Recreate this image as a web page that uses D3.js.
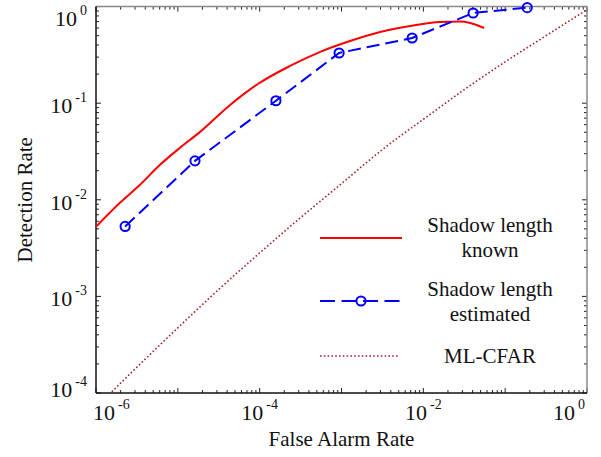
<!DOCTYPE html>
<html><head><meta charset="utf-8">
<script src="https://cdn.jsdelivr.net/npm/d3@7"></script>
<style>body{margin:0;background:#fff}svg{display:block}text{font-family:"Liberation Serif","Times New Roman",serif;fill:#111}</style>
</head><body>
<svg id="c" width="601" height="457"></svg>
<script>
// ---- data ----
const knownFA = [1e-6, 1.96e-6, 3.45e-6, 6.05e-6, 1.06e-5, 1.87e-5, 4.35e-5, 9.5e-5, 2.35e-4, 5.5e-4, 1.27e-3, 2.96e-3, 6.9e-3, 0.016, 0.0282, 0.0373, 0.0553];
const knownPD = [5.26e-3, 9.3e-3, 0.0143, 0.023, 0.0345, 0.0505, 0.096, 0.158, 0.243, 0.34, 0.44, 0.546, 0.63, 0.693, 0.70, 0.676, 0.60];
const estFA = [2.27e-6, 1.62e-5, 1.58e-4, 9.35e-4, 7.3e-3, 0.0406, 0.186];
const estPD = [5.3e-3, 0.0253, 0.106, 0.331, 0.473, 0.859, 0.975];
const cfarFA = [1.56e-6, 3.16e-6, 1e-5, 3.16e-5, 1e-4, 3.16e-4, 1e-3, 3.16e-3, 1e-2, 3.16e-2, 0.1, 0.316, 1];
const cfarPD = [1.03e-4, 1.85e-4, 4.73e-4, 1.18e-3, 2.82e-3, 6.53e-3, 0.0147, 0.0331, 0.0682, 0.138, 0.268, 0.50, 0.93];
const xTickVals = [1e-6, 1e-4, 1e-2, 1];
const xTickExp = ["-6", "-4", "-2", "0"];
const yTickVals = [1, 1e-1, 1e-2, 1e-3, 1e-4];
const yTickExp = ["0", "-1", "-2", "-3", "-4"];
const legendLabels = [["Shadow length", "known"], ["Shadow length", "estimated"], ["ML-CFAR"]];
const xTitle = "False Alarm Rate", yTitle = "Detection Rate";

// ---- layout ----
const L = 96, R = 587, T = 6.6, B = 393;
const svg = d3.select("#c");
const x = d3.scaleLog().domain([1e-6, 1]).range([L, R]);
const y = d3.scaleLog().domain([1e-4, 1]).range([B, T]);

svg.append("defs").append("clipPath").attr("id", "clip")
  .append("rect").attr("x", L).attr("y", T - 1).attr("width", R - L).attr("height", B - T + 1);

// minor + major ticks
const minorX = [], minorY = [];
for (let e = -6; e < 0; e++) for (let m = 2; m <= 9; m++) minorX.push(m * Math.pow(10, e));
for (let e = -4; e < 0; e++) for (let m = 2; m <= 9; m++) minorY.push(m * Math.pow(10, e));
const majX = d3.range(-6, 1).map(e => Math.pow(10, e));
const majY = d3.range(-4, 1).map(e => Math.pow(10, e));
const tg = svg.append("g").attr("stroke", "#222").attr("stroke-width", 1);
function tx(v, len) {
  tg.append("line").attr("x1", x(v)).attr("x2", x(v)).attr("y1", B).attr("y2", B - len);
  tg.append("line").attr("x1", x(v)).attr("x2", x(v)).attr("y1", T).attr("y2", T + len);
}
function ty(v, len) {
  tg.append("line").attr("y1", y(v)).attr("y2", y(v)).attr("x1", L).attr("x2", L + len);
  tg.append("line").attr("y1", y(v)).attr("y2", y(v)).attr("x1", R).attr("x2", R - len);
}
minorX.forEach(v => tx(v, 3)); majX.forEach(v => tx(v, 5));
minorY.forEach(v => ty(v, 3)); majY.forEach(v => ty(v, 5));

// frame
svg.append("line").attr("x1", L).attr("x2", R).attr("y1", T).attr("y2", T).attr("stroke", "#888").attr("stroke-width", 1.5);
svg.append("line").attr("x1", R).attr("x2", R).attr("y1", T).attr("y2", B).attr("stroke", "#888").attr("stroke-width", 1.5);
svg.append("line").attr("x1", L).attr("x2", L).attr("y1", T).attr("y2", B).attr("stroke", "#111").attr("stroke-width", 1.5);
svg.append("line").attr("x1", L).attr("x2", R).attr("y1", B).attr("y2", B).attr("stroke", "#111").attr("stroke-width", 1.5);

// tick labels
function powLabel(g, exp) {
  const t = g.append("text").attr("font-size", 22);
  t.append("tspan").text("10");
  t.append("tspan").attr("font-size", 14).attr("dy", -11).attr("dx", 3).text(exp);
  return t;
}
xTickVals.forEach((v, i) => {
  const t = powLabel(svg, xTickExp[i]);
  const w = t.node().getBBox().width;
  let cx = x(v);
  let left = Math.min(Math.max(cx - w / 2, 93), 585 - w);
  t.attr("x", left).attr("y", 420);
});
yTickVals.forEach((v, i) => {
  const t = powLabel(svg, yTickExp[i]);
  const w = t.node().getBBox().width;
  const base = Math.min(Math.max(y(v) + 10, 26), 397);
  t.attr("x", 87 - w).attr("y", base);
});

// titles
svg.append("text").attr("x", (L + R) / 2).attr("y", 446).attr("text-anchor", "middle").attr("font-size", 21).text(xTitle);
svg.append("text").attr("transform", `translate(32,${(T + B) / 2}) rotate(-90)`).attr("text-anchor", "middle").attr("font-size", 21).text(yTitle);

// series
const plot = svg.append("g").attr("clip-path", "url(#clip)");
const line = d3.line().x(d => x(d[0])).y(d => y(d[1]));
plot.append("path").datum(cfarFA.map((v, i) => [v, cfarPD[i]]))
  .attr("d", line.curve(d3.curveMonotoneX)).attr("fill", "none")
  .attr("stroke", "#a3262a").attr("stroke-width", 1.6).attr("stroke-dasharray", "1.6,2.2");
plot.append("path").datum(knownFA.map((v, i) => [v, knownPD[i]]))
  .attr("d", line.curve(d3.curveMonotoneX)).attr("fill", "none")
  .attr("stroke", "#ff0000").attr("stroke-width", 2);
const estData = estFA.map((v, i) => [v, estPD[i]]);
plot.append("path").datum(estData)
  .attr("d", line.curve(d3.curveLinear)).attr("fill", "none")
  .attr("stroke", "#0000ff").attr("stroke-width", 2).attr("stroke-dasharray", "13,6");
svg.append("g").selectAll("circle").data(estData).join("circle")
  .attr("cx", d => x(d[0])).attr("cy", d => y(d[1])).attr("r", 4.6)
  .attr("fill", "none").attr("stroke", "#0000ff").attr("stroke-width", 2);

// legend
const lg = svg.append("g");
lg.append("line").attr("x1", 320).attr("x2", 402).attr("y1", 238).attr("y2", 238).attr("stroke", "#ff0000").attr("stroke-width", 2.2);
lg.append("line").attr("x1", 320).attr("x2", 402).attr("y1", 301).attr("y2", 301).attr("stroke", "#0000ff").attr("stroke-width", 2).attr("stroke-dasharray", "15,6.5");
lg.append("circle").attr("cx", 361).attr("cy", 301).attr("r", 4.6).attr("fill", "none").attr("stroke", "#0000ff").attr("stroke-width", 2);
lg.append("line").attr("x1", 320).attr("x2", 399).attr("y1", 356).attr("y2", 356).attr("stroke", "#a3262a").attr("stroke-width", 1.6).attr("stroke-dasharray", "1.6,2.2");
const legY = [[232, 257], [296, 321], [363]];
legendLabels.forEach((lines, i) => lines.forEach((s, j) => {
  lg.append("text").attr("x", 490).attr("y", legY[i][j]).attr("text-anchor", "middle").attr("font-size", 21).text(s);
}));
</script>
</body></html>
